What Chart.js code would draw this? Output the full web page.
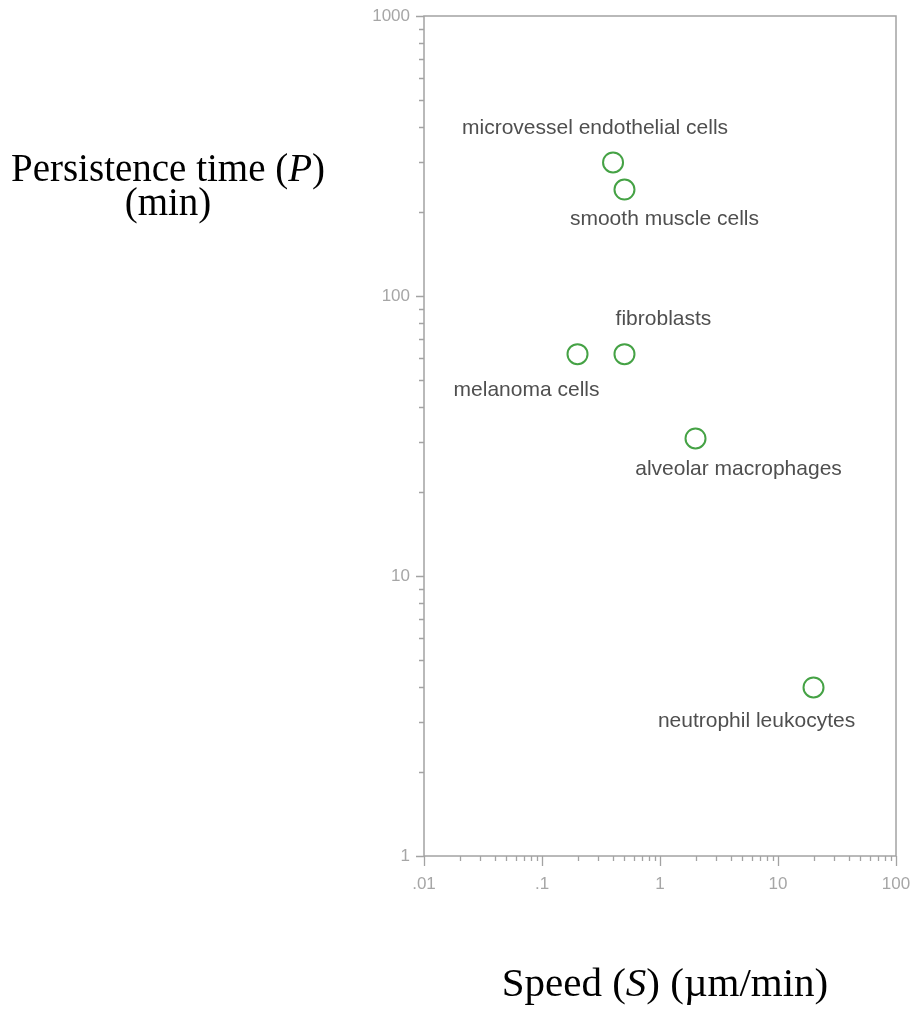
<!DOCTYPE html>
<html>
<head>
<meta charset="utf-8">
<script src="https://cdn.jsdelivr.net/npm/chart.js@4"></script>
<style>
  body { margin: 0; background: #fff; }
  #wrap { position: absolute; left: 0; top: 0; width: 910px; height: 1025px; }
  .title { position: absolute; font-family: "Liberation Serif", "Times New Roman", serif; font-size: 39px; line-height: 34px; color: #000; text-align: center; white-space: nowrap; }
  #yTitle { left: 0; width: 336px; top: 151px; }
  #xTitle { left: 465px; width: 400px; top: 965px; font-size: 41px; }
</style>
</head>
<body>
<div id="wrap"><canvas id="chart"></canvas></div>
<div class="title" id="yTitle">Persistence time (<i>P</i>)<br>(min)</div>
<div class="title" id="xTitle">Speed (<i>S</i>) (&micro;m/min)</div>
<script>
// values (log-log axes)
const cellTypes = ["microvessel endothelial cells", "smooth muscle cells", "fibroblasts", "melanoma cells", "alveolar macrophages", "neutrophil leukocytes"];
const speeds = [0.4, 0.5, 0.5, 0.2, 2, 20];          // µm/min
const persistence = [300, 240, 62, 62, 31, 4];       // min
const xTickValues = [0.01, 0.1, 1, 10, 100];
const xTickLabels = [".01", ".1", "1", "10", "100"];
const yTickValues = [1, 10, 100, 1000];
const yTickLabels = ["1", "10", "100", "1000"];

// where each label sits relative to its circle (px)
const labelOffsets = [[-18, -34], [40, 30], [39, -35], [-51, 36], [43, 31], [-57, 34]];

const axisColor = "#a3a3a3";
const tickFont = { family: "'Liberation Sans', Arial, sans-serif", size: 17 };

function decadeTicks(lo, hi) {
    // all 1..9 x 10^n positions between lo and hi
    const out = [];
    for (let e = Math.round(Math.log10(lo)); e < Math.round(Math.log10(hi)); e++) {
        for (let m = 1; m < 10; m++) out.push({ v: m * Math.pow(10, e), major: m === 1 });
    }
    out.push({ v: hi, major: true });
    return out;
}

const framePlugin = {
    id: "frame",
    afterDatasetsDraw(chart) {
        const { ctx, chartArea: a, scales } = chart;
        ctx.save();
        ctx.strokeStyle = axisColor;
        ctx.lineWidth = 1.5;
        ctx.strokeRect(a.left, a.top, a.right - a.left, a.bottom - a.top);

        ctx.lineWidth = 1.3;
        ctx.beginPath();
        decadeTicks(0.01, 100).forEach((t) => {
            const x = Math.round(scales.x.getPixelForValue(t.v)) + 0.5;
            ctx.moveTo(x, a.bottom);
            ctx.lineTo(x, a.bottom + (t.major ? 10 : 5));
        });
        decadeTicks(1, 1000).forEach((t) => {
            const y = Math.round(scales.y.getPixelForValue(t.v)) + 0.5;
            ctx.moveTo(a.left, y);
            ctx.lineTo(a.left - (t.major ? 8 : 5), y);
        });
        ctx.stroke();

        // cell type labels
        ctx.fillStyle = "#4f4f4f";
        ctx.font = "21px 'Liberation Sans', Arial, sans-serif";
        ctx.textAlign = "center";
        ctx.textBaseline = "middle";
        const meta = chart.getDatasetMeta(0);
        meta.data.forEach((pt, i) => {
            ctx.fillText(cellTypes[i], pt.x + labelOffsets[i][0], pt.y + labelOffsets[i][1]);
        });
        ctx.restore();
    },
};

new Chart(document.getElementById("chart"), {
    type: "scatter",
    data: {
        datasets: [
            {
                data: speeds.map((s, i) => ({ x: s, y: persistence[i] })),
                pointStyle: "circle",
                pointRadius: 10,
                pointHoverRadius: 10,
                borderWidth: 2,
                borderColor: "#45a245",
                backgroundColor: "rgba(0,0,0,0)",
            },
        ],
    },
    options: {
        responsive: true,
        maintainAspectRatio: false,
        animation: false,
        events: [],
        layout: { padding: { top: 16, right: 14, left: 0, bottom: 0 } },
        plugins: { legend: { display: false }, tooltip: { enabled: false } },
        scales: {
            x: {
                type: "logarithmic",
                min: 0.01,
                max: 100,
                afterBuildTicks: (scale) => {
                    scale.ticks = xTickValues.map((v) => ({ value: v }));
                },
                afterFit: (scale) => {
                    scale.height = 169;
                    scale.paddingLeft = 0;
                    scale.paddingRight = 0;
                },
                grid: { display: false, drawTicks: false },
                border: { display: false },
                ticks: {
                    autoSkip: false,
                    maxRotation: 0,
                    padding: 18,
                    color: "#a6a6a6",
                    font: tickFont,
                    callback: (v) => xTickLabels[xTickValues.indexOf(v)],
                },
            },
            y: {
                type: "logarithmic",
                min: 1,
                max: 1000,
                afterBuildTicks: (scale) => {
                    scale.ticks = yTickValues.map((v) => ({ value: v }));
                },
                afterFit: (scale) => {
                    scale.width = 424;
                    scale.paddingTop = 0;
                    scale.paddingBottom = 0;
                },
                grid: { display: false, drawTicks: false },
                border: { display: false },
                ticks: {
                    autoSkip: false,
                    padding: 14,
                    color: "#a6a6a6",
                    font: tickFont,
                    callback: (v) => yTickLabels[yTickValues.indexOf(v)],
                },
            },
        },
    },
    plugins: [framePlugin],
});
</script>
</body>
</html>
